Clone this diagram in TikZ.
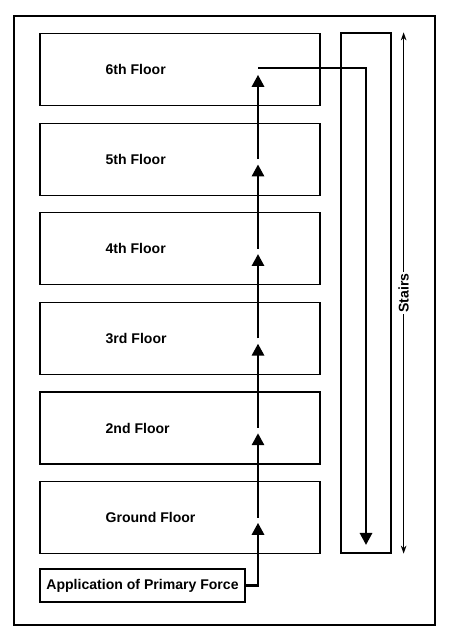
\documentclass[tikz,border=0pt]{standalone}
\usepackage{fontspec}
\setmainfont{Liberation Sans}
\usetikzlibrary{arrows.meta,positioning}
\begin{document}
\begin{tikzpicture}[
    floor/.style={rectangle, draw=black, line width=0.9pt, minimum width=7cm, minimum height=1.8cm},
    flabel/.style={font=\bfseries, inner sep=0pt},
    box/.style={rectangle, draw=black, line width=0.9pt, minimum width=5.125cm, minimum height=0.825cm, align=center, font=\bfseries, inner sep=0pt},
    stairsbox/.style={rectangle, draw=black, line width=0.9pt, minimum width=1.25cm, minimum height=13cm},
    force/.style={-{Triangle[length=0.3cm, width=0.3cm]}, line width=2pt},
    stairsarrow/.style={{Stealth[length=0.2cm, width=0.14cm]}-{Stealth[length=0.2cm, width=0.14cm]}, line width=0.8pt}
]
\useasboundingbox (0,0) rectangle (11.225,16);

% Building frame
\draw[line width=1.6pt] (0.35,0.375) rectangle (10.875,15.6);

% Floors
\node[floor] (f6) at (4.5,14.26) {};
\node[floor] (f5) at (4.5,12.02) {};
\node[floor] (f4) at (4.5,9.78) {};
\node[floor] (f3) at (4.5,7.54) {};
\node[floor] (f2) at (4.5,5.30) {};
\node[floor] (f0) at (4.5,3.06) {};

% Floor labels
\node[flabel, right=1.65cm of f6.west] {6th Floor};
\node[flabel, right=1.65cm of f5.west] {5th Floor};
\node[flabel, right=1.65cm of f4.west] {4th Floor};
\node[flabel, right=1.65cm of f3.west] {3rd Floor};
\node[flabel, right=1.65cm of f2.west] {2nd Floor};
\node[flabel, right=1.65cm of f0.west] {Ground Floor};

% Force source
\node[box] (app) at (3.5625,1.3625) {Application of Primary Force};

% Stairs
\node[stairsbox] (stairs) at (9.15,8.675) {};

% Points on the force line
\coordinate (c0) at (6.45,3.06);
\coordinate (c2) at (6.45,5.30);
\coordinate (c3) at (6.45,7.54);
\coordinate (c4) at (6.45,9.78);
\coordinate (c5) at (6.45,12.02);
\coordinate (t0) at (6.45,2.93);
\coordinate (t2) at (6.45,5.17);
\coordinate (t3) at (6.45,7.41);
\coordinate (t4) at (6.45,9.65);
\coordinate (t5) at (6.45,11.89);
\coordinate (t6) at (6.45,14.13);
\coordinate (r0) at (6.45,14.3);
\coordinate (r1) at (9.15,2.375);

% Force going up
\draw[force] (app.east) -| (t0);
\draw[force] (c0) -- (t2);
\draw[force] (c2) -- (t3);
\draw[force] (c3) -- (t4);
\draw[force] (c4) -- (t5);
\draw[force] (c5) -- (t6);

% Return down the stairs
\draw[force] (r0) -| (r1);

% Stairs height
\draw[stairsarrow] ([xshift=0.3cm]stairs.south east) -- node[fill=white, rotate=90, font=\bfseries, inner sep=1pt] {Stairs} ([xshift=0.3cm]stairs.north east);

\end{tikzpicture}
\end{document}
